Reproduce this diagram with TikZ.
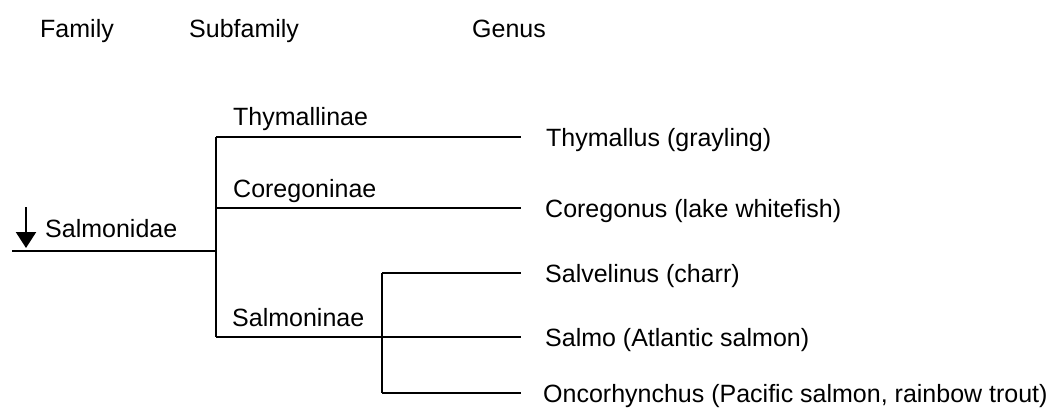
\documentclass[tikz,border=0pt]{standalone}
\usepackage{fontspec}
\setmainfont{Liberation Sans}
\usetikzlibrary{arrows.meta}
\begin{document}
\begin{tikzpicture}[x=1pt,y=-1pt,
  lbl/.style={font=\fontsize{25}{30}\selectfont, inner sep=0pt, anchor=base west},
  br/.style={line width=2.2pt}]
\useasboundingbox (0,0) rectangle (1063,416);
% headers
\node[lbl] (hfam) at (40,37) {Family};
\node[lbl] (hsub) at (189,37) {Subfamily};
\node[lbl] (hgen) at (472,37) {Genus};
% junction coordinates
\coordinate (root) at (12,251);
\coordinate (j1) at (216,251);
\coordinate (jt) at (216,137);
\coordinate (jc) at (216,208);
\coordinate (js) at (216,337);
\coordinate (k1) at (382,273);
\coordinate (k3) at (382,393);
% genus labels
\node[lbl] (thy) at (546,146) {Thymallus (grayling)};
\node[lbl] (cor) at (545,217) {Coregonus (lake whitefish)};
\node[lbl] (sal) at (545,282) {Salvelinus (charr)};
\node[lbl] (smo) at (545,346) {Salmo (Atlantic salmon)};
\node[lbl] (onc) at (543,402) {Oncorhynchus (Pacific salmon, rainbow trout)};
% subfamily labels
\node[lbl] (tlab) at (233,125) {Thymallinae};
\node[lbl] (clab) at (233,197) {Coregoninae};
\node[lbl] (slab) at (232,326) {Salmoninae};
\node[lbl] (fam) at (45,237) {Salmonidae};
\coordinate (atop) at (26,207);
\coordinate (abot) at (26,248);
\draw[line width=2.2pt, -{Triangle[length=16pt,width=20pt]}] (atop) -- (abot);
% tree
\coordinate (et) at (521,137);
\coordinate (ec) at (521,208);
\coordinate (es) at (521,273);
\coordinate (em) at (521,337);
\coordinate (eo) at (521,393);
\draw[br] (root) -- (j1);
\draw[br] (jt) -- (js);
\draw[br] (jt) -- (et);
\draw[br] (jc) -- (ec);
\draw[br] (js) -- (em);
\draw[br] (k1) -- (k3);
\draw[br] (k1) -- (es);
\draw[br] (k3) -- (eo);
\end{tikzpicture}
\end{document}
